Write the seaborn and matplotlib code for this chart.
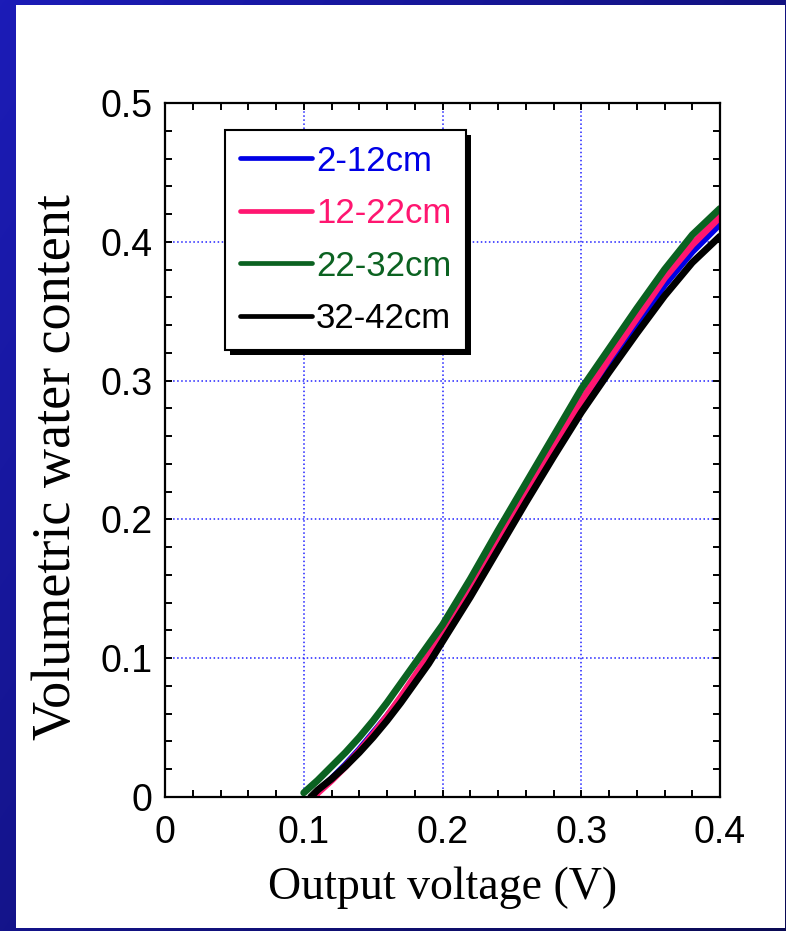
import numpy as np
import pandas as pd
import matplotlib
matplotlib.use("Agg")
import matplotlib.pyplot as plt
import seaborn as sns
from matplotlib.patches import Rectangle
from matplotlib.ticker import MultipleLocator
from matplotlib.transforms import IdentityTransform

# depth layers and colours
depths = ["2-12cm", "12-22cm", "22-32cm", "32-42cm"]
colors = ["#0000e6", "#ff1670", "#0b6221", "#000000"]

# voltage grid shared by all curves (after each curve's start point)
voltage = [0.11, 0.12, 0.13, 0.14, 0.15, 0.16, 0.17, 0.18, 0.19, 0.20,
           0.22, 0.24, 0.26, 0.28, 0.30, 0.32, 0.34, 0.36, 0.38, 0.40]

# where each curve starts (voltage, water content)
start_v = [0.107, 0.108, 0.100, 0.105]
start_w = [0.000, 0.000, 0.003, 0.000]

wc_2_12 = [0.004, 0.013, 0.023, 0.034, 0.046, 0.058, 0.071, 0.085, 0.100, 0.115,
           0.148, 0.182, 0.217, 0.250, 0.282, 0.312, 0.341, 0.369, 0.393, 0.413]
wc_12_22 = [0.003, 0.012, 0.022, 0.033, 0.045, 0.058, 0.072, 0.087, 0.102, 0.117,
            0.150, 0.185, 0.219, 0.253, 0.285, 0.316, 0.345, 0.374, 0.398, 0.418]
wc_22_32 = [0.012, 0.022, 0.032, 0.043, 0.055, 0.068, 0.082, 0.096, 0.110, 0.124,
            0.157, 0.192, 0.226, 0.260, 0.294, 0.323, 0.352, 0.380, 0.405, 0.424]
wc_32_42 = [0.005, 0.013, 0.022, 0.032, 0.043, 0.055, 0.068, 0.082, 0.096, 0.112,
            0.144, 0.178, 0.212, 0.245, 0.277, 0.306, 0.334, 0.361, 0.385, 0.404]

x_ticks = [0, 0.1, 0.2, 0.3, 0.4]
y_ticks = [0, 0.1, 0.2, 0.3, 0.4, 0.5]
y_tick_labels = ["0", "0.1", "0.2", "0.3", "0.4", "0.5"]
x_tick_labels = ["0", "0.1", "0.2", "0.3", "0.4"]

rows = []
for name, sv, sw, vals in zip(depths, start_v, start_w,
                              [wc_2_12, wc_12_22, wc_22_32, wc_32_42]):
    rows.append({"voltage": sv, "water": sw, "depth": name})
    for v, w in zip(voltage, vals):
        rows.append({"voltage": v, "water": w, "depth": name})
df = pd.DataFrame(rows)

sns.set_theme(style="ticks")
plt.rcParams["font.family"] = ["Liberation Sans", "DejaVu Sans"]

fig = plt.figure(figsize=(7.86, 9.31), dpi=100)

# slide background: blue gradient frame with white panel
yy, xx = np.mgrid[0:931, 0:786]
t = np.clip(0.55 * xx / 786 + 0.45 * yy / 931, 0, 1)
c0 = np.array([0.11, 0.11, 0.72])
c1 = np.array([0.04, 0.04, 0.33])
bg = c0[None, None, :] * (1 - t[..., None]) + c1[None, None, :] * t[..., None]
fig.figimage(bg, xo=0, yo=0, origin="upper", zorder=0)
fig.patches.append(Rectangle((16 / 786, 3 / 931), (785 - 16) / 786, (926 - 3) / 931,
                             transform=fig.transFigure, facecolor="white",
                             edgecolor="none", zorder=1))

ax = fig.add_axes([165 / 786, 134 / 931, 555 / 786, 694 / 931])
ax.set_zorder(2)
ax.set_facecolor("white")

sns.lineplot(data=df, x="voltage", y="water", hue="depth", hue_order=depths,
             palette=colors, estimator=None, sort=False, linewidth=5.0,
             ax=ax, legend=False)

ax.set_xlim(0, 0.4)
ax.set_ylim(0, 0.5)
ax.set_xticks(x_ticks)
ax.set_xticklabels(x_tick_labels)
ax.set_yticks(y_ticks)
ax.set_yticklabels(y_tick_labels)
ax.xaxis.set_minor_locator(MultipleLocator(0.02))
ax.yaxis.set_minor_locator(MultipleLocator(0.02))
ax.tick_params(which="both", direction="in", top=True, right=True,
               length=5, width=1.4, color="black")
ax.tick_params(axis="both", which="major", labelsize=27, labelcolor="black")
ax.tick_params(axis="y", which="major", pad=9)
ax.tick_params(axis="x", which="major", pad=13)
ax.grid(True, which="major", color="#2020ff", linestyle=":", linewidth=1.1)
for s in ax.spines.values():
    s.set_linewidth(1.6)
    s.set_color("black")

ax.set_xlabel("Output voltage (V)", fontsize=33,
              family=["Liberation Serif", "DejaVu Serif"], color="black")
ax.set_ylabel("Volumetric water content", fontsize=39,
              family=["Liberation Serif", "DejaVu Serif"], color="black")
ax.xaxis.set_label_coords(0.5, -0.1)
ax.yaxis.set_label_coords(-0.15, 0.475)

handles = [plt.Line2D([], [], color=c, linewidth=3.4) for c in colors]
leg = ax.legend(handles, depths, loc="upper left", bbox_to_anchor=(0.108, 0.961),
                borderaxespad=0, fontsize=25, frameon=True, fancybox=False,
                shadow=False, handlelength=2.1,
                handletextpad=0.1, labelspacing=0.56, borderpad=0.42,
                labelcolor="linecolor")
leg.get_frame().set_edgecolor("black")
leg.get_frame().set_linewidth(1.5)
leg.get_frame().set_facecolor("white")
leg.get_frame().set_alpha(1)
leg.set_zorder(6)

# hard black drop shadow behind the legend box
fig.canvas.draw()
bb = leg.get_window_extent()
shadow = Rectangle((bb.x0 + 5, bb.y0 - 5), bb.width, bb.height,
                   transform=IdentityTransform(), facecolor="black",
                   edgecolor="none", zorder=5.5, clip_on=False)
ax.add_patch(shadow)

fig.savefig("out.png", dpi=100)
